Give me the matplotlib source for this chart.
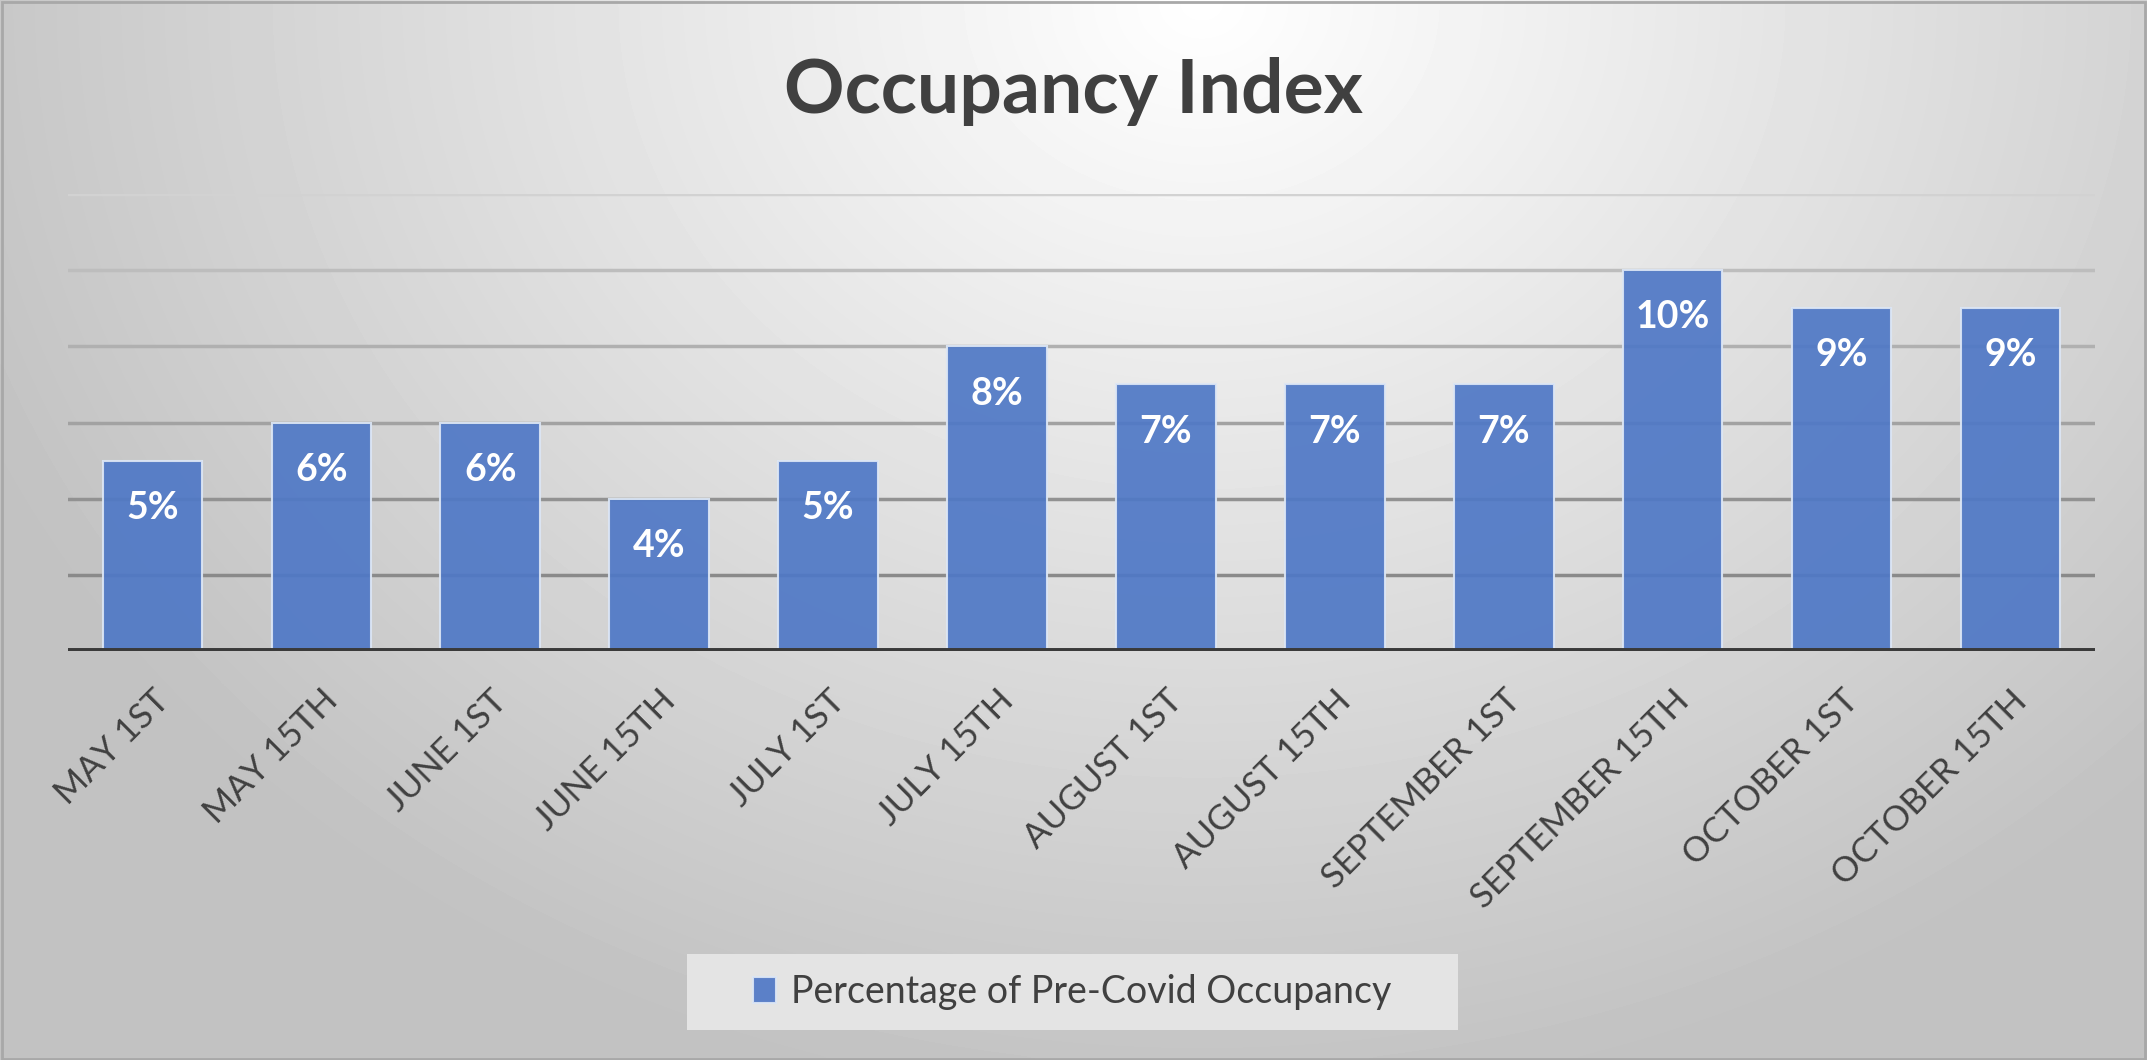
import numpy as np
import matplotlib.pyplot as plt
from matplotlib.patches import Rectangle

# data
dates = ['MAY 1ST', 'MAY 15TH', 'JUNE 1ST', 'JUNE 15TH', 'JULY 1ST', 'JULY 15TH',
         'AUGUST 1ST', 'AUGUST 15TH', 'SEPTEMBER 1ST', 'SEPTEMBER 15TH',
         'OCTOBER 1ST', 'OCTOBER 15TH']
occupancy = [5, 6, 6, 4, 5, 8, 7, 7, 7, 10, 9, 9]
grid_ticks = [2, 4, 6, 8, 10, 12]

plt.rcParams['font.family'] = ['Lato', 'DejaVu Sans']

fig = plt.figure(figsize=(21.47, 10.6), dpi=100)

# background gradient, light at the top centre, grey to the edges
bg = fig.add_axes([0, 0, 1, 1], zorder=-10)
xx, yy = np.meshgrid(np.linspace(0, 1, 400), np.linspace(0, 1, 200))
d = np.sqrt(((xx - 0.56) / 0.62) ** 2 + ((yy - 0.0) / 1.05) ** 2)
shade = 1.0 - 0.24 * np.clip(d, 0, 1)
bg.imshow(shade, cmap='gray', vmin=0, vmax=1, aspect='auto',
          extent=[0, 1, 1, 0], interpolation='bicubic')
bg.set_axis_off()
fig.patches.append(Rectangle((0.001, 0.001), 0.998, 0.997, transform=fig.transFigure,
                             fill=False, edgecolor='#a8a8a8', linewidth=2))
# legend box
fig.patches.append(Rectangle((687 / 2147, 1 - 1030 / 1060), 771 / 2147, 76 / 1060,
                             transform=fig.transFigure, facecolor='#e4e4e4',
                             edgecolor='none', zorder=0))

ax = fig.add_axes([0.0317, 0.3858, 0.944, 0.4312])
ax.patch.set_alpha(0)
x = np.arange(len(dates))

# gridlines, lighter going up
grid_cols = ['#8a8a8a', '#929292', '#a2a2a2', '#b0b0b0', '#bdbdbd', '#d2d2d2']
for t, c in zip(grid_ticks, grid_cols):
    ax.axhline(t, color=c, linewidth=2.5, zorder=1)

bars = ax.bar(x, occupancy, width=0.59, color='#4f78c6', alpha=0.92,
              edgecolor='#dce6f5', linewidth=1.5, zorder=2,
              label='Percentage of Pre-Covid Occupancy')
for xi, v in zip(x, occupancy):
    ax.annotate(f'{v}%', (xi, v), xytext=(0, -34), textcoords='offset points',
                ha='center', va='center', color='white', fontsize=27,
                fontweight='bold', zorder=3)

ax.axhline(0, color='#3a3a3a', linewidth=5, zorder=4)
ax.set_xlim(-0.5, len(dates) - 0.5)
ax.set_ylim(0, 12)
ax.set_yticks([])
ax.set_xticks(x)
ax.set_xticklabels(dates, rotation=45, ha='right', rotation_mode='anchor',
                   fontsize=25, color='#404040')
ax.tick_params(axis='x', length=0, pad=24)
for s in ax.spines.values():
    s.set_visible(False)

fig.text(0.5, 0.914, 'Occupancy Index', ha='center', va='center',
         fontsize=54, fontweight='bold', color='#404040')

leg = fig.legend(loc='center', bbox_to_anchor=(0.4995, 0.064), fontsize=27,
                 frameon=False, handlelength=0.6, handleheight=0.7,
                 handletextpad=0.4, labelcolor='#404040')

fig.savefig('out.png', dpi=100)
